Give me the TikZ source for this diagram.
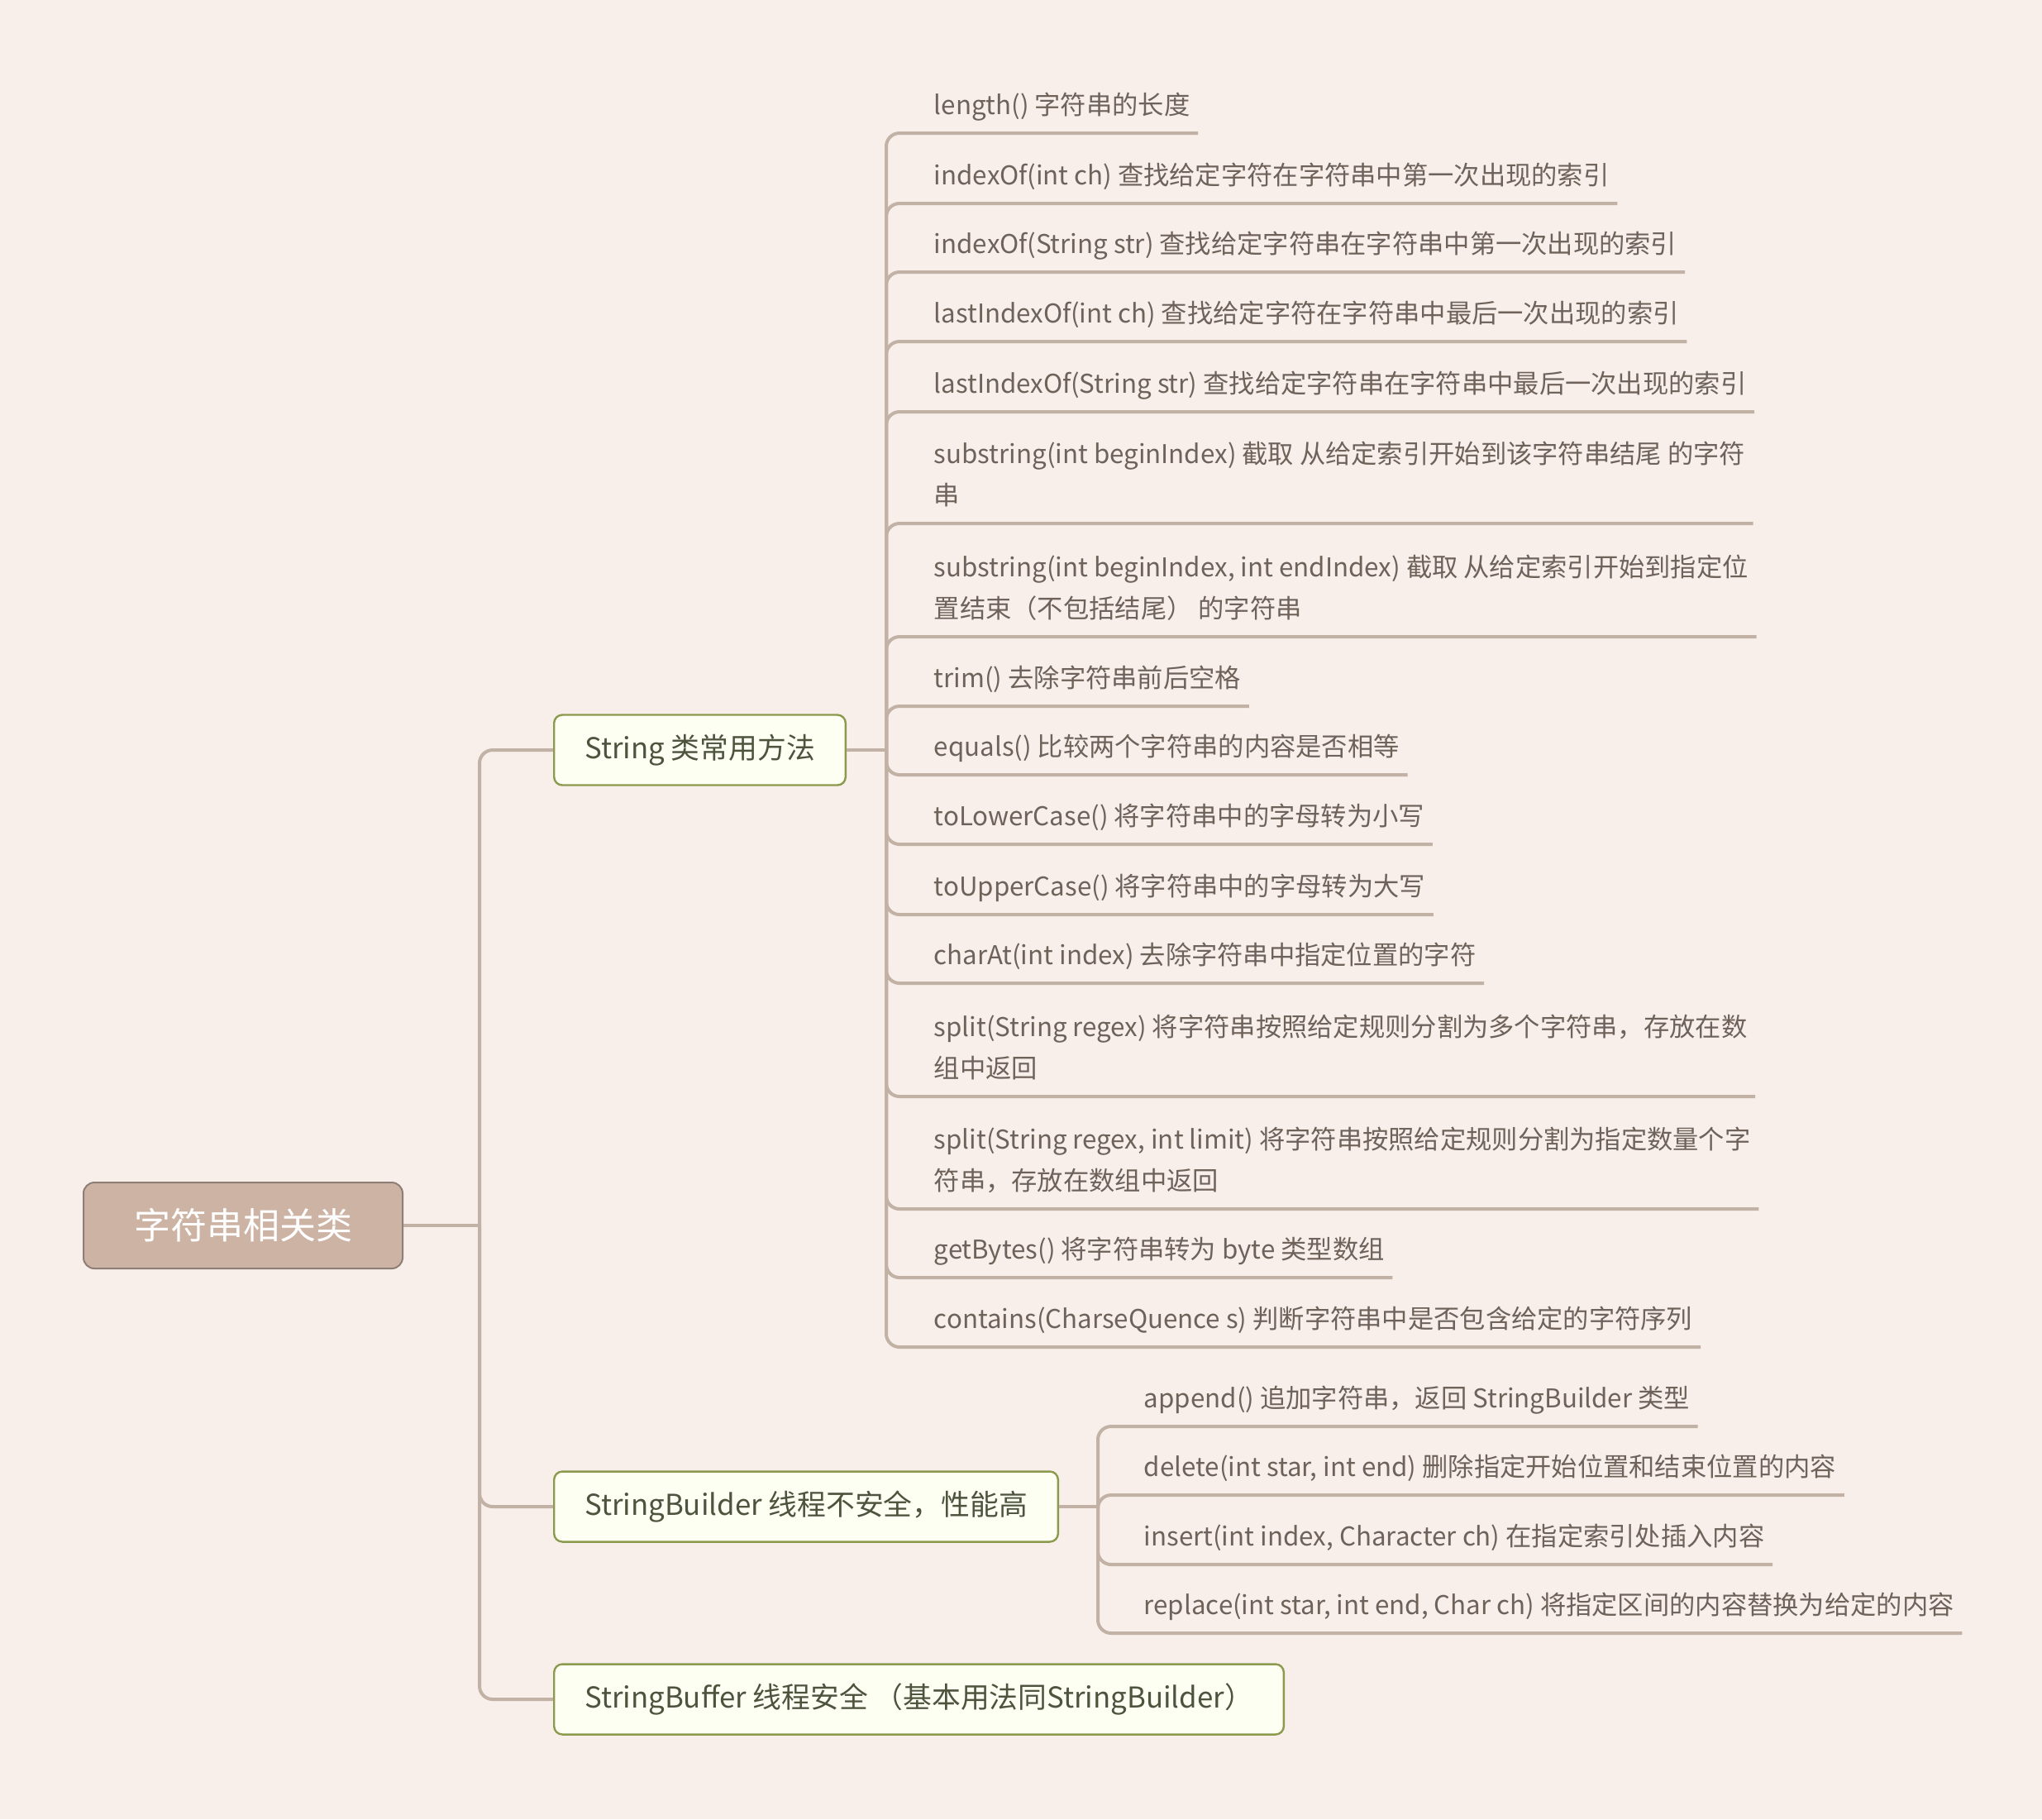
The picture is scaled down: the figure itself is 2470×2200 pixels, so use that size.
\documentclass[tikz,border=0pt]{standalone}
\usepackage{fontspec}
\setmainfont{Noto Sans CJK SC}
\usepackage{tikz}
\usetikzlibrary{positioning}
\definecolor{Paper}{HTML}{F8EFEA}
\definecolor{Branch}{HTML}{C2B1A5}
\definecolor{RootFill}{HTML}{CDB3A4}
\definecolor{RootLine}{HTML}{8E7F76}
\definecolor{TopicFill}{HTML}{FDFFF3}
\definecolor{TopicLine}{HTML}{8C9A4E}
\definecolor{TopicText}{HTML}{4E533E}
\definecolor{LeafText}{HTML}{6E625A}
\tikzstyle{Root} = [rectangle, rounded corners=3.3pt, draw=RootLine, fill=RootFill, line width=0.5pt, text=white, minimum width=96.5pt, minimum height=26pt, font=\fontsize{11}{13}\selectfont]
\tikzstyle{Topic} = [rectangle, rounded corners=2.5pt, draw=TopicLine, fill=TopicFill, line width=0.6pt, text=TopicText, minimum height=21.25pt, inner xsep=9.25pt, anchor=west, font=\fontsize{8.7}{11}\selectfont]
\tikzstyle{Leaf} = [inner xsep=2.25pt, inner ysep=1.75pt, anchor=south west, align=left, text=LeafText, font=\fontsize{7.82}{12.5}\selectfont, execute at end node=\strut]
\tikzstyle{branch} = [draw=Branch, line width=1pt, rounded corners=4pt]

\begin{document}
\begin{tikzpicture}[x=0.25pt, y=-0.25pt]
\fill[Paper] (0,0) rectangle (2470,2200);
\useasboundingbox (0,0) rectangle (2470,2200);

\node (Strings)[Root] at (294,1482) {字符串相关类};
\coordinate (Trunk) at (580,1482);

\node (String Methods)[Topic] at (669,907) {String 类常用方法};
\node (Builder)[Topic] at (669,1822) {StringBuilder 线程不安全，性能高};
\node (Buffer)[Topic] at (669,2055) {StringBuffer 线程安全 （基本用法同StringBuilder）};

\coordinate (String Fork) at (1072,907);
\coordinate (Builder Fork) at (1328,1822);

\node (length)[Leaf] at (1120,161) {length() 字符串的长度};
\node (indexOf ch)[Leaf] at (1120,246) {indexOf(int ch) 查找给定字符在字符串中第一次出现的索引};
\node (indexOf str)[Leaf] at (1120,329) {indexOf(String str) 查找给定字符串在字符串中第一次出现的索引};
\node (lastIndexOf ch)[Leaf] at (1120,413) {lastIndexOf(int ch) 查找给定字符在字符串中最后一次出现的索引};
\node (lastIndexOf str)[Leaf] at (1120,498) {lastIndexOf(String str) 查找给定字符串在字符串中最后一次出现的索引};
\node (substring begin)[Leaf] at (1120,633) {substring(int beginIndex) 截取 从给定索引开始到该字符串结尾 的字符\\串};
\node (substring end)[Leaf] at (1120,770) {substring(int beginIndex, int endIndex) 截取 从给定索引开始到指定位\\置结束（不包括结尾） 的字符串};
\node (trim)[Leaf] at (1120,854) {trim() 去除字符串前后空格};
\node (equals)[Leaf] at (1120,937) {equals() 比较两个字符串的内容是否相等};
\node (toLowerCase)[Leaf] at (1120,1021) {toLowerCase() 将字符串中的字母转为小写};
\node (toUpperCase)[Leaf] at (1120,1106) {toUpperCase() 将字符串中的字母转为大写};
\node (charAt)[Leaf] at (1120,1189) {charAt(int index) 去除字符串中指定位置的字符};
\node (split)[Leaf] at (1120,1326) {split(String regex) 将字符串按照给定规则分割为多个字符串，存放在数\\组中返回};
\node (split limit)[Leaf] at (1120,1462) {split(String regex, int limit) 将字符串按照给定规则分割为指定数量个字\\符串，存放在数组中返回};
\node (getBytes)[Leaf] at (1120,1545) {getBytes() 将字符串转为 byte 类型数组};
\node (contains)[Leaf] at (1120,1629) {contains(CharseQuence s) 判断字符串中是否包含给定的字符序列};

\node (append)[Leaf] at (1374,1725) {append() 追加字符串，返回 StringBuilder 类型};
\node (delete)[Leaf] at (1374,1808) {delete(int star, int end) 删除指定开始位置和结束位置的内容};
\node (insert)[Leaf] at (1374,1892) {insert(int index, Character ch) 在指定索引处插入内容};
\node (replace)[Leaf] at (1374,1975) {replace(int star, int end, Char ch) 将指定区间的内容替换为给定的内容};

\draw[branch](Strings.east)--(Trunk);
\draw[branch](Trunk)|-(String Methods.west);
\draw[branch](Trunk)|-(Builder.west);
\draw[branch](Trunk)|-(Buffer.west);

\draw[branch](String Methods.east)--(String Fork);
\draw[branch](String Fork)|-(length.south east);
\draw[branch](String Fork)|-(indexOf ch.south east);
\draw[branch](String Fork)|-(indexOf str.south east);
\draw[branch](String Fork)|-(lastIndexOf ch.south east);
\draw[branch](String Fork)|-(lastIndexOf str.south east);
\draw[branch](String Fork)|-(substring begin.south east);
\draw[branch](String Fork)|-(substring end.south east);
\draw[branch](String Fork)|-(trim.south east);
\draw[branch](String Fork)|-(equals.south east);
\draw[branch](String Fork)|-(toLowerCase.south east);
\draw[branch](String Fork)|-(toUpperCase.south east);
\draw[branch](String Fork)|-(charAt.south east);
\draw[branch](String Fork)|-(split.south east);
\draw[branch](String Fork)|-(split limit.south east);
\draw[branch](String Fork)|-(getBytes.south east);
\draw[branch](String Fork)|-(contains.south east);

\draw[branch](Builder.east)--(Builder Fork);
\draw[branch](Builder Fork)|-(append.south east);
\draw[branch](Builder Fork)|-(delete.south east);
\draw[branch](Builder Fork)|-(insert.south east);
\draw[branch](Builder Fork)|-(replace.south east);

\end{tikzpicture}
\end{document}
